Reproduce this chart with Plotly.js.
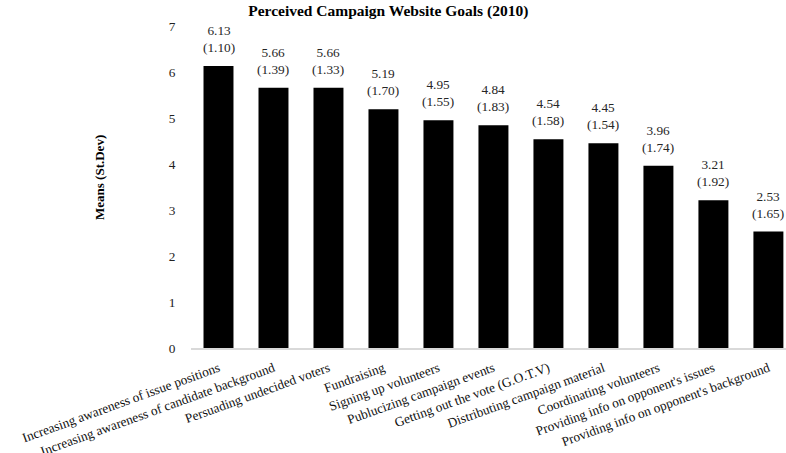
<!DOCTYPE html>
<html>
<head>
<meta charset="utf-8">
<script src="https://cdn.plot.ly/plotly-3.0.1.min.js"></script>
<style>html,body{margin:0;padding:0;background:#fff;}#chart{width:786px;height:453px;}</style>
</head>
<body>
<div id="chart"></div>
<script>
const categories = [
  "Increasing awareness of issue positions",
  "Increasing awareness of candidate background",
  "Persuading undecided voters",
  "Fundraising",
  "Signing up volunteers",
  "Publucizing campaign events",
  "Getting out the vote (G.O.T.V)",
  "Distributing campaign material",
  "Coordinating volunteers",
  "Providing info on opponent's issues",
  "Providing info on opponent's background"
];
const means = [6.13, 5.66, 5.66, 5.19, 4.95, 4.84, 4.54, 4.45, 3.96, 3.21, 2.53];
const stdevs = ["1.10", "1.39", "1.33", "1.70", "1.55", "1.83", "1.58", "1.54", "1.74", "1.92", "1.65"];
const yTicks = [0, 1, 2, 3, 4, 5, 6, 7];

const font = "'Liberation Serif', 'Times New Roman', serif";

const trace = {
  type: "bar",
  x: categories,
  y: means,
  marker: {color: "#000000", line: {width: 0}},
  hoverinfo: "x+y"
};

const valueLabels = means.map((m, i) => ({
  x: categories[i],
  y: m,
  xref: "x",
  yref: "y",
  text: m.toFixed(2) + "<br>(" + stdevs[i] + ")",
  showarrow: false,
  xanchor: "center",
  yanchor: "bottom",
  yshift: 9,
  font: {family: font, size: 13.3, color: "#262626"}
}));

const yTitle = {
  text: "<b>Means (St.Dev)</b>",
  xref: "paper",
  yref: "paper",
  x: 0,
  xshift: -91,
  y: 0.528,
  xanchor: "center",
  yanchor: "middle",
  textangle: -90,
  showarrow: false,
  font: {family: font, size: 13, color: "#000"}
};

const layout = {
  width: 786,
  height: 453,
  margin: {l: 191, r: 0, t: 26, b: 105, pad: 0},
  paper_bgcolor: "#ffffff",
  plot_bgcolor: "#ffffff",
  showlegend: false,
  bargap: 0.455,
  font: {family: font, size: 13, color: "#000"},
  title: {
    text: "<b>Perceived Campaign Website Goals (2010)</b>",
    font: {family: font, size: 15.5, color: "#000"},
    x: 0.494, xanchor: "center",
    y: 0.976, yanchor: "middle"
  },
  xaxis: {
    type: "category",
    range: [-0.5, 10.32],
    tickangle: -20,
    tickfont: {family: font, size: 13.3, color: "#111"},
    showline: true,
    linecolor: "#d9d9d9",
    linewidth: 1.5,
    ticks: "outside",
    ticklen: 6,
    tickcolor: "rgba(0,0,0,0)",
    showgrid: false,
    zeroline: false,
    automargin: false
  },
  yaxis: {
    range: [0, 7],
    tickvals: yTicks,
    ticktext: yTicks.map(String),
    tickfont: {family: font, size: 13.3, color: "#222"},
    ticks: "outside",
    ticklen: 12,
    tickcolor: "rgba(0,0,0,0)",
    showline: false,
    showgrid: false,
    zeroline: false,
    automargin: false
  },
  annotations: valueLabels.concat([yTitle])
};

Plotly.newPlot("chart", [trace], layout, {displayModeBar: false, staticPlot: true});
</script>
</body>
</html>
